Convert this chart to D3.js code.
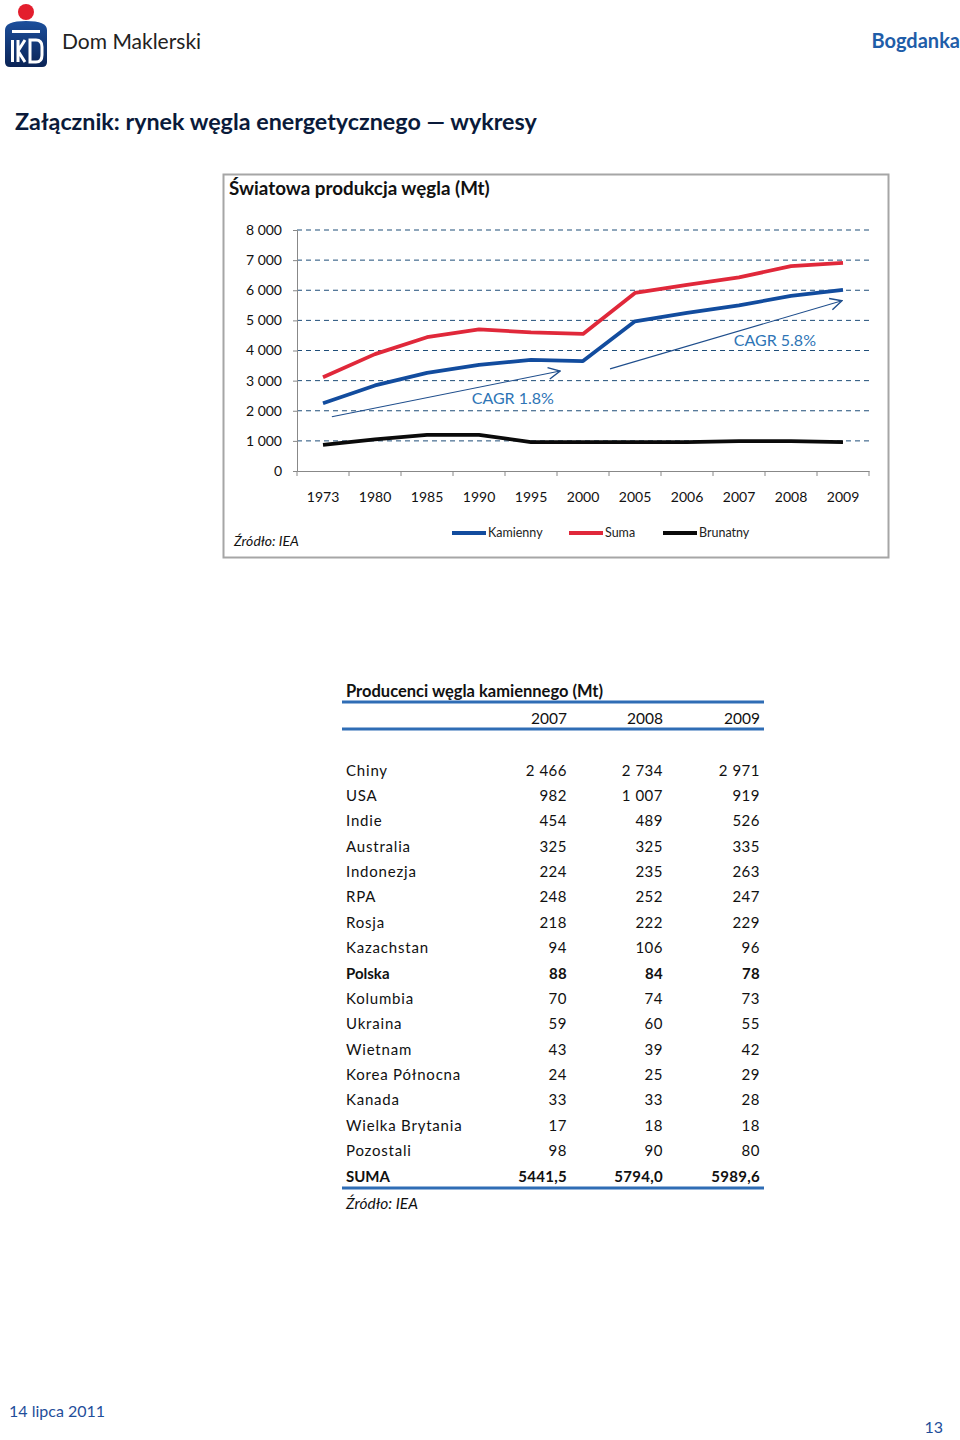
<!DOCTYPE html>
<html><head><meta charset="utf-8">
<script src="https://cdn.jsdelivr.net/npm/d3@7"></script>
<style>
body{margin:0;background:#fff;}
svg{display:block;}
text{font-family:Lato,"Open Sans",sans-serif;}
</style></head>
<body>
<svg id="page" width="960" height="1440"></svg>
<script>
// ---- chart data ----
const categories = ["1973","1980","1985","1990","1995","2000","2005","2006","2007","2008","2009"];
const kamienny = [2250,2840,3260,3520,3690,3650,4970,5250,5500,5810,6010];
const suma     = [3110,3880,4440,4700,4600,4550,5910,6180,6430,6800,6910];
const brunatny = [870,1050,1200,1200,960,960,960,960,990,990,960];
const yTicks = [0,1000,2000,3000,4000,5000,6000,7000,8000];
const seriesNames = ["Kamienny","Suma","Brunatny"];
const seriesColors = ["#124C9E","#E0283A","#0A0A0A"];
// CAGR annotations (category + fraction of step, value)
const cagrArrows = [
  {from:["1973",0.17,1800], to:["1995",0.56,3320], label:"CAGR 1.8%", at:["1990",0.65,2430]},
  {from:["2000",0.52,3390], to:["2009",-0.02,5650], label:"CAGR 5.8%", at:["2007",0.69,4350]}
];
// ---- table data ----
const tableYears = ["2007","2008","2009"];
const producers = ["Chiny","USA","Indie","Australia","Indonezja","RPA","Rosja","Kazachstan","Polska","Kolumbia","Ukraina","Wietnam","Korea Północna","Kanada","Wielka Brytania","Pozostali","SUMA"];
const prod2007 = ["2 466","982","454","325","224","248","218","94","88","70","59","43","24","33","17","98","5441,5"];
const prod2008 = ["2 734","1 007","489","325","235","252","222","106","84","74","60","39","25","33","18","90","5794,0"];
const prod2009 = ["2 971","919","526","335","263","247","229","96","78","73","55","42","29","28","18","80","5989,6"];
const boldRows = ["Polska","SUMA"];

const svg = d3.select("#page");

// ---- header ----
const logo = svg.append("g");
logo.append("circle").attr("cx",26).attr("cy",12).attr("r",8).attr("fill","#E31E2D");
const grad = svg.append("defs").append("linearGradient").attr("id","lg").attr("x1",0).attr("x2",0).attr("y1",0).attr("y2",1);
grad.append("stop").attr("offset","0").attr("stop-color","#1C4F9C");
grad.append("stop").attr("offset","1").attr("stop-color","#0B2456");
logo.append("path").attr("d","M5,30 Q5,21 26,21 Q47,21 47,30 L47,62 Q47,67 42,67 L10,67 Q5,67 5,62 Z").attr("fill","url(#lg)");
logo.append("rect").attr("x",12).attr("y",30).attr("width",28).attr("height",3).attr("fill","#fff");
logo.append("rect").attr("x",11).attr("y",40).attr("width",3).attr("height",22).attr("fill","#fff");
logo.append("path").attr("d","M18,40 L18,62 M18,51 L25,40 M18,51 L25,62").attr("stroke","#fff").attr("stroke-width",3).attr("fill","none");
logo.append("path").attr("d","M30,40 L36,40 Q42,40 42,47 L42,55 Q42,62 36,62 L30,62 Z").attr("stroke","#fff").attr("stroke-width",3).attr("fill","none");
svg.append("text").attr("x",62).attr("y",49).attr("font-size",21).attr("fill","#222").text("Dom Maklerski");
svg.append("text").attr("x",960).attr("y",48).attr("text-anchor","end").attr("font-size",20).attr("font-weight","bold").attr("fill","#1F5DA8").text("Bogdanka");
svg.append("text").attr("x",15).attr("y",130).attr("font-size",23.3).attr("font-weight","bold").attr("fill","#0A1A3A").text("Załącznik: rynek węgla energetycznego — wykresy");

// ---- chart box ----
svg.append("rect").attr("x",223.5).attr("y",174.5).attr("width",665).attr("height",383).attr("fill","#fff").attr("stroke","#A6A6A6").attr("stroke-width",2);
svg.append("text").attr("x",229).attr("y",195).attr("font-size",18.8).attr("font-weight","bold").attr("fill","#111").text("Światowa produkcja węgla (Mt)");

const x = d3.scaleBand().domain(categories).range([297,869]);
const step = x.step();
const xc = c => x(c) + x.bandwidth()/2;
const y = d3.scaleLinear().domain([0,8000]).range([471,230]);
const loc = d3.formatLocale({decimal:",",thousands:" ",grouping:[3],currency:["",""]});
const fmt = loc.format(",");

// gridlines
svg.append("g").selectAll("line").data(yTicks.filter(d=>d>0)).join("line")
  .attr("x1",297).attr("x2",869).attr("y1",d=>y(d)).attr("y2",d=>y(d))
  .attr("stroke","#1F4E79").attr("stroke-width",1).attr("stroke-dasharray","5,4");

// y axis
const yAxis = svg.append("g").attr("transform","translate(297,0)")
  .call(d3.axisLeft(y).tickValues(yTicks).tickFormat(fmt).tickSize(4).tickPadding(11));
yAxis.select(".domain").attr("stroke","#888");
yAxis.selectAll(".tick line").attr("stroke","#888");
yAxis.selectAll("text").attr("font-size",14).attr("fill","#111").attr("font-family","Lato");

// x axis
const xAxis = svg.append("g").attr("transform","translate(0,471)")
  .call(d3.axisBottom(x).tickSize(0).tickPadding(21));
xAxis.select(".domain").attr("stroke","#888");
xAxis.selectAll("text").attr("font-size",14).attr("fill","#111").attr("font-family","Lato");
svg.append("g").selectAll("line").data(categories.concat(["__end"])).join("line")
  .attr("x1",(d,i)=>297+i*step).attr("x2",(d,i)=>297+i*step)
  .attr("y1",471).attr("y2",476).attr("stroke","#888");

// lines
const seriesData = [kamienny, suma, brunatny];
const line = d3.line().x((d,i)=>xc(categories[i])).y(d=>y(d));
seriesData.forEach((s,k)=>{
  svg.append("path").datum(s).attr("d",line).attr("fill","none")
    .attr("stroke",seriesColors[k]).attr("stroke-width",3.8).attr("stroke-linejoin","round");
});

// arrows
const defs = svg.select("defs");
defs.append("marker").attr("id","arr").attr("viewBox","0 0 12 12").attr("refX",11).attr("refY",6)
  .attr("markerWidth",14).attr("markerHeight",14).attr("markerUnits","userSpaceOnUse").attr("orient","auto")
  .append("path").attr("d","M1,1 L11,6 L1,11").attr("fill","none").attr("stroke","#1F4E8C").attr("stroke-width",1.2);
const px = p => xc(p[0]) + p[1]*step;
cagrArrows.forEach(a=>{
  svg.append("line").attr("x1",px(a.from)).attr("y1",y(a.from[2])).attr("x2",px(a.to)).attr("y2",y(a.to[2]))
    .attr("stroke","#1F4E8C").attr("stroke-width",1.1).attr("marker-end","url(#arr)");
  svg.append("text").attr("x",px(a.at)).attr("y",y(a.at[2])+6).attr("text-anchor","middle")
    .attr("font-size",16).attr("fill","#2E75B6").text(a.label);
});

// legend
const legX = [452,569,663];
seriesNames.forEach((n,i)=>{
  svg.append("line").attr("x1",legX[i]).attr("x2",legX[i]+34).attr("y1",533).attr("y2",533)
    .attr("stroke",seriesColors[i]).attr("stroke-width",4);
  svg.append("text").attr("x",legX[i]+36).attr("y",537).attr("font-size",12.5).attr("fill","#222").text(n);
});
svg.append("text").attr("x",234).attr("y",546).attr("font-size",14).attr("font-style","italic").attr("fill","#111").text("Źródło: IEA");

// ---- table ----
svg.append("text").attr("x",346).attr("y",697).attr("font-size",16.5).attr("font-weight","bold").attr("fill","#111").text("Producenci węgla kamiennego (Mt)");
const blue = "#2F6DB5";
svg.append("line").attr("x1",342).attr("x2",764).attr("y1",702).attr("y2",702).attr("stroke",blue).attr("stroke-width",3);
const colX = [567,663,760];
tableYears.forEach((yr,i)=>svg.append("text").attr("x",colX[i]).attr("y",724).attr("text-anchor","end").attr("font-size",15.5).attr("fill","#111").text(yr));
svg.append("line").attr("x1",342).attr("x2",764).attr("y1",729).attr("y2",729).attr("stroke",blue).attr("stroke-width",3);
const rowY = d3.scalePoint().domain(producers).range([775.5,1181.5]);
const cols = [prod2007,prod2008,prod2009];
producers.forEach((p,i)=>{
  const b = boldRows.includes(p);
  svg.append("text").attr("x",346).attr("y",rowY(p)).attr("font-size",15).attr("letter-spacing",b?0:0.8)
    .attr("font-weight",b?"bold":"normal").attr("fill","#111").text(p);
  cols.forEach((c,j)=>svg.append("text").attr("x",colX[j]).attr("y",rowY(p)).attr("text-anchor","end")
    .attr("font-size",15).attr("font-weight",b?"bold":"normal").attr("letter-spacing",b?0.3:0.5).attr("fill","#111").text(c[i]));
});
svg.append("line").attr("x1",342).attr("x2",764).attr("y1",1188).attr("y2",1188).attr("stroke",blue).attr("stroke-width",3);
svg.append("text").attr("x",346).attr("y",1209).attr("font-size",15.5).attr("font-style","italic").attr("fill","#111").text("Źródło: IEA");

// ---- footer ----
svg.append("text").attr("x",9).attr("y",1417).attr("font-size",16).attr("fill","#1F4E9A").text("14 lipca 2011");
svg.append("text").attr("x",943).attr("y",1433).attr("text-anchor","end").attr("font-size",16).attr("fill","#1F4E9A").text("13");
</script>
</body></html>
